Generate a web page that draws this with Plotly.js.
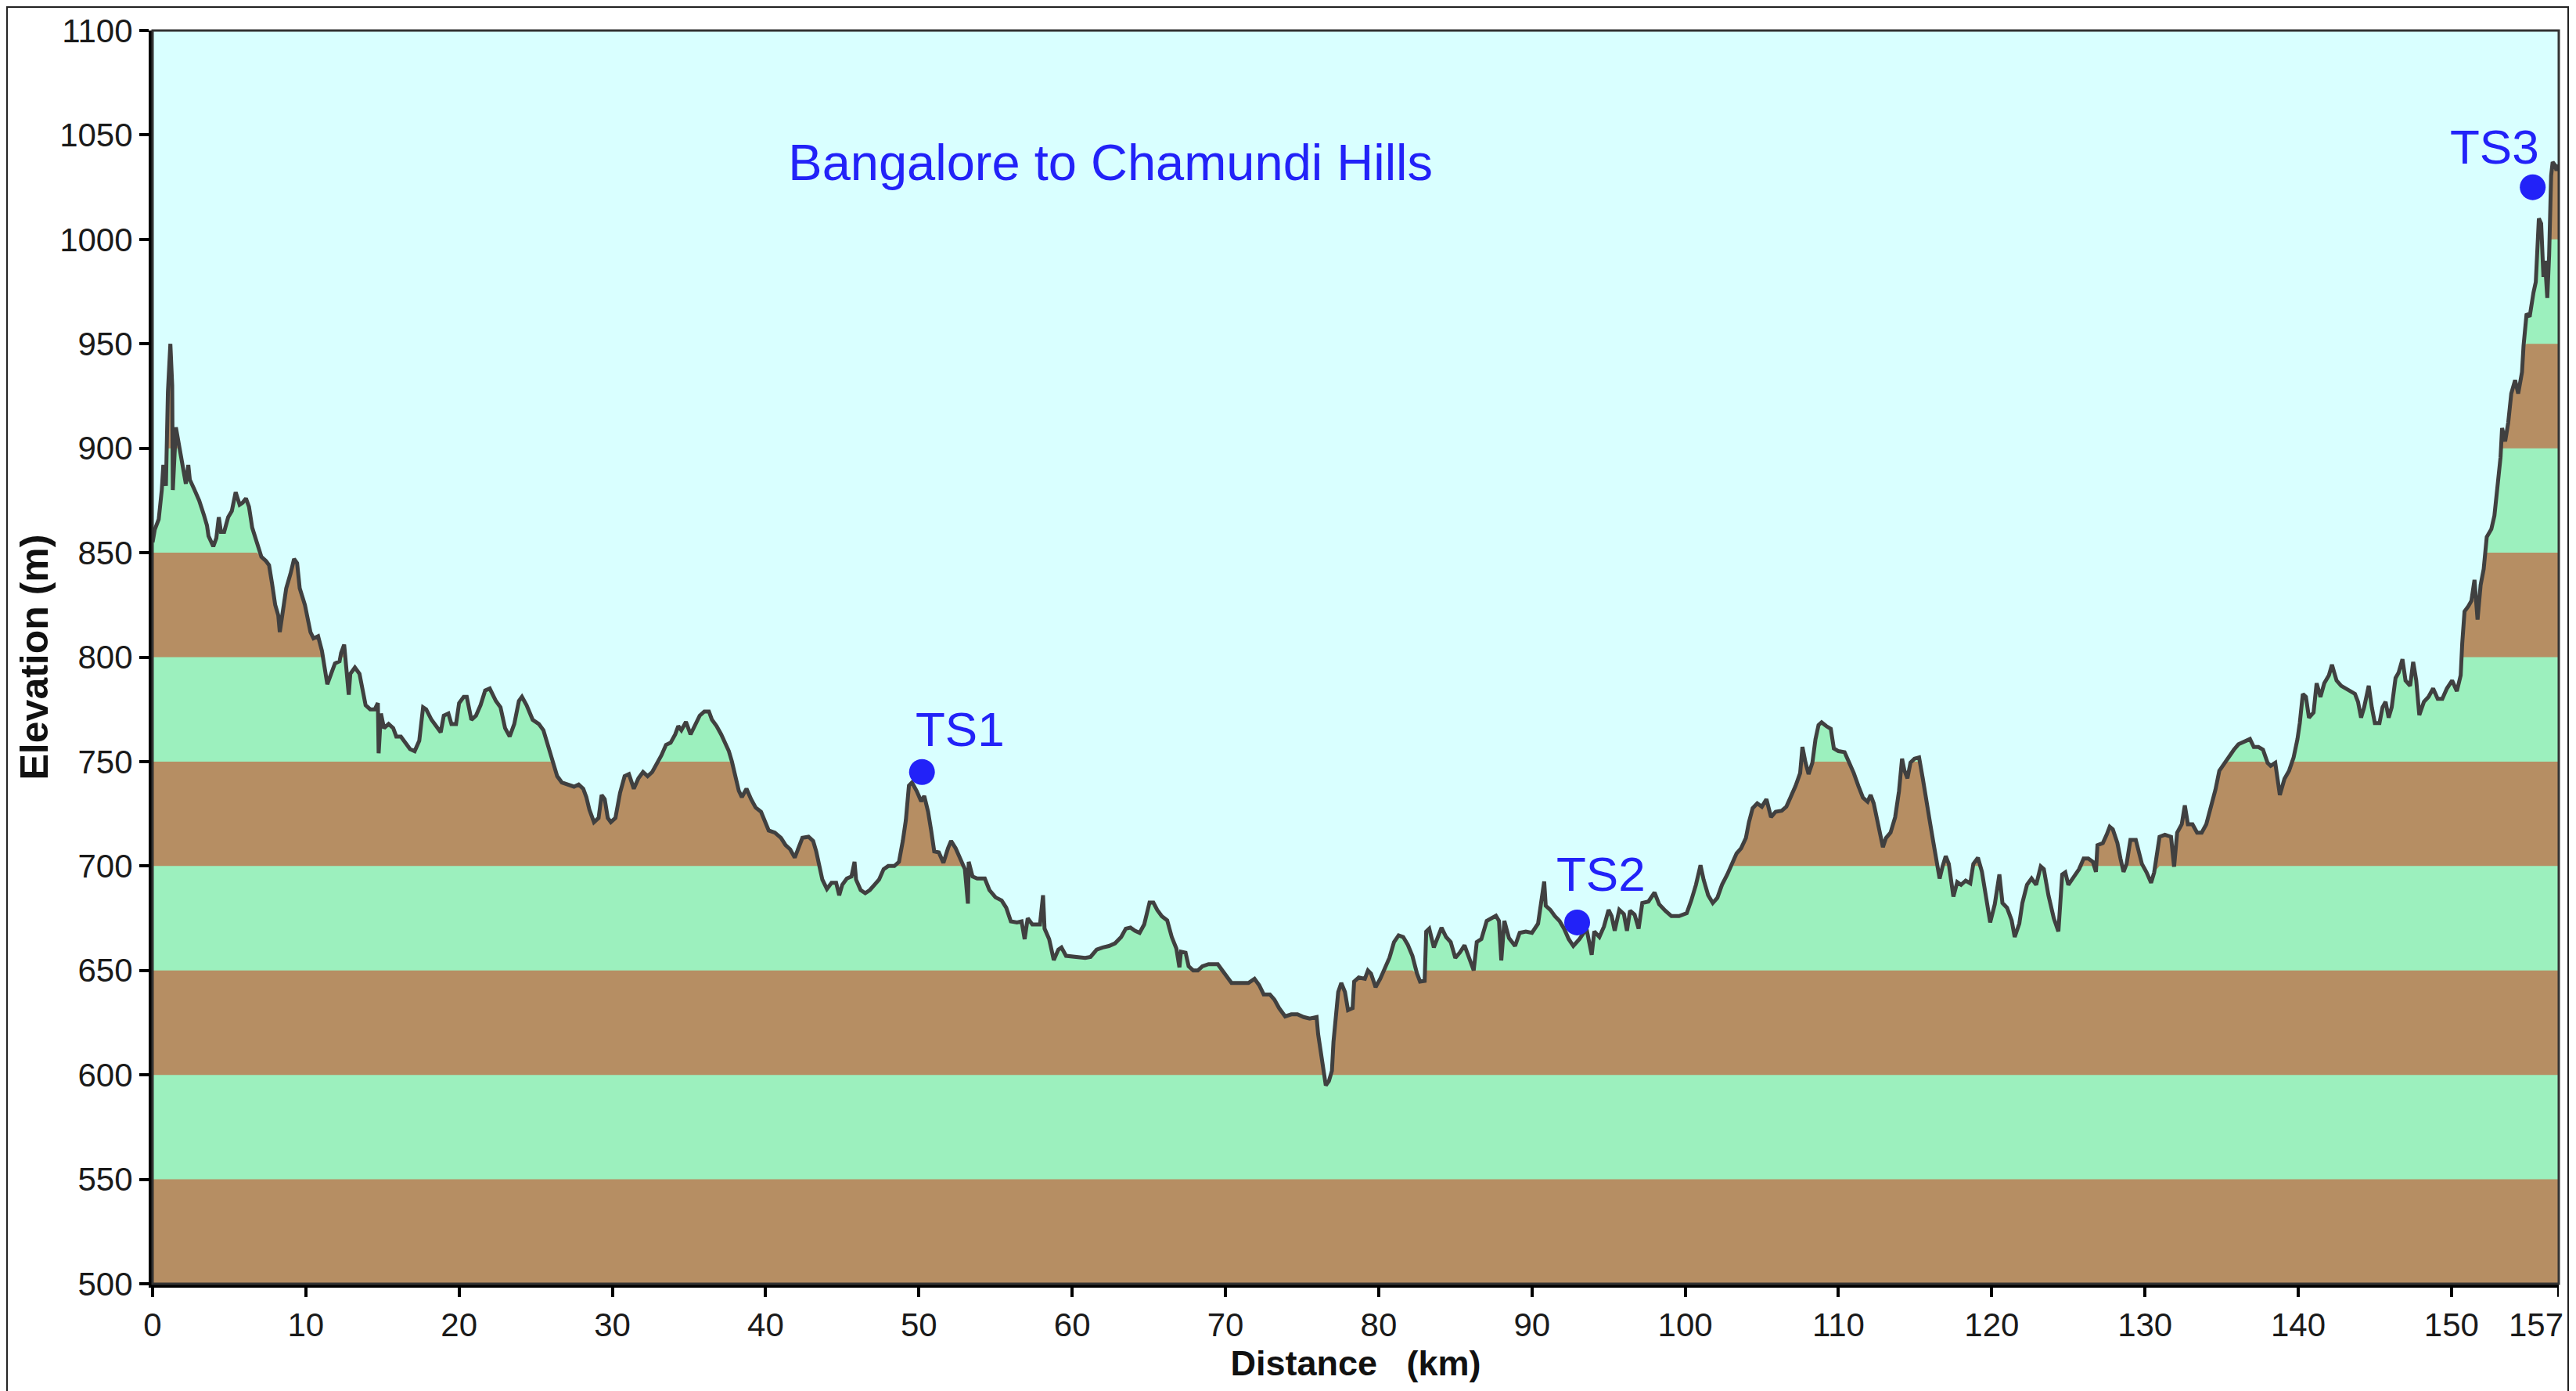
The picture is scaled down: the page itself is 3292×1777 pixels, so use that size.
<!DOCTYPE html>
<html>
<head>
<meta charset="utf-8">
<script src="https://cdn.plot.ly/plotly-3.0.1.min.js"></script>
<style>
  html, body { margin: 0; padding: 0; background: #ffffff; }
  #chart { width: 3292px; height: 1777px; }
</style>
</head>
<body>
<div id="chart"></div>
<script>
// ---- Data ----
const distanceKm = [
  0, 0.14, 0.4, 0.6, 0.7, 0.87, 1.0, 1.16, 1.28, 1.32, 1.52, 1.72, 1.9, 2.0, 2.17, 2.33, 2.43, 2.74, 3.04, 3.35,
  3.55, 3.65, 3.96, 4.16, 4.32, 4.46, 4.67, 4.93, 5.17, 5.42, 5.68, 5.88, 6.09, 6.29, 6.5, 6.8, 7.1, 7.4, 7.6, 7.8,
  8.0, 8.2, 8.3, 8.46, 8.72, 9.0, 9.23, 9.43, 9.6, 9.94, 10.1, 10.3, 10.5, 10.8, 11.05, 11.2, 11.4, 11.7, 11.9, 12.2,
  12.3, 12.5, 12.6, 12.8, 12.9, 13.2, 13.5, 13.7, 13.9, 14.2, 14.5, 14.7, 14.75, 14.9, 15.1, 15.4, 15.7, 15.9, 16.2, 16.5,
  16.8, 17.1, 17.4, 17.65, 17.85, 18.2, 18.5, 18.8, 19.0, 19.3, 19.5, 19.8, 20.0, 20.3, 20.5, 20.8, 21.1, 21.4, 21.7, 22.0,
  22.4, 22.7, 23.0, 23.3, 23.6, 23.9, 24.1, 24.4, 24.8, 25.2, 25.5, 25.8, 26.1, 26.4, 26.7, 27.1, 27.5, 27.8, 28.1, 28.3,
  28.5, 28.8, 29.1, 29.3, 29.5, 29.7, 29.9, 30.2, 30.5, 30.8, 31.08, 31.4, 31.7, 32.0, 32.3, 32.6, 32.9, 33.2, 33.5, 33.8,
  34.1, 34.3, 34.5, 34.8, 35.1, 35.4, 35.7, 36.0, 36.3, 36.5, 36.8, 37.1, 37.4, 37.6, 37.8, 38.0, 38.25, 38.45, 38.75, 39.05,
  39.35, 39.7, 39.96, 40.2, 40.6, 41.0, 41.3, 41.6, 41.9, 42.1, 42.4, 42.8, 43.1, 43.3, 43.5, 43.7, 44.0, 44.3, 44.6, 44.8,
  45.0, 45.3, 45.6, 45.8, 45.9, 46.2, 46.5, 46.8, 47.1, 47.4, 47.7, 48.0, 48.4, 48.7, 48.95, 49.15, 49.35, 49.55, 49.85, 50.15,
  50.35, 50.6, 50.8, 51.0, 51.3, 51.6, 51.9, 52.1, 52.4, 52.7, 53.0, 53.2, 53.25, 53.5, 53.8, 54.3, 54.6, 55.0, 55.4, 55.7,
  56.0, 56.4, 56.7, 56.9, 57.1, 57.4, 57.9, 58.1, 58.2, 58.5, 58.8, 59.1, 59.3, 59.6, 60.05, 60.45, 60.85, 61.2, 61.6, 62.0,
  62.4, 62.8, 63.2, 63.5, 63.8, 64.1, 64.4, 64.7, 65.05, 65.3, 65.55, 65.85, 66.2, 66.5, 66.8, 67.0, 67.1, 67.4, 67.6, 67.9,
  68.2, 68.5, 68.9, 69.5, 69.8, 70.1, 70.4, 70.9, 71.5, 71.9, 72.2, 72.5, 72.9, 73.2, 73.5, 73.9, 74.3, 74.7, 75.1, 75.5,
  75.95, 76.05, 76.25, 76.45, 76.55, 76.75, 76.95, 77.05, 77.2, 77.36, 77.56, 77.8, 78.0, 78.3, 78.4, 78.7, 79.1, 79.3, 79.5, 79.8,
  80.1, 80.4, 80.7, 81.0, 81.3, 81.6, 81.9, 82.2, 82.5, 82.7, 83.0, 83.1, 83.3, 83.6, 83.8, 84.1, 84.4, 84.7, 85.0, 85.3,
  85.6, 85.9, 86.2, 86.4, 86.7, 87.05, 87.35, 87.65, 87.85, 88.0, 88.2, 88.5, 88.9, 89.2, 89.6, 90.0, 90.4, 90.6, 90.8, 90.9,
  91.2, 91.5, 91.8, 92.1, 92.4, 92.7, 93.1, 93.56, 93.9, 94.07, 94.4, 94.7, 95.0, 95.2, 95.4, 95.7, 96.0, 96.2, 96.4, 96.7,
  96.96, 97.2, 97.6, 98.0, 98.3, 98.7, 99.1, 99.6, 100.1, 100.4, 100.7, 101.0, 101.2, 101.5, 101.8, 102.1, 102.4, 102.75, 103.05, 103.35,
  103.65, 103.96, 104.16, 104.4, 104.7, 105.0, 105.3, 105.6, 105.9, 106.3, 106.6, 106.9, 107.2, 107.5, 107.65, 107.85, 108.05, 108.3, 108.5, 108.7,
  108.9, 109.2, 109.5, 109.7, 110.0, 110.4, 110.7, 111.0, 111.3, 111.6, 111.9, 112.1, 112.3, 112.5, 112.7, 112.9, 113.1, 113.4, 113.7, 113.95,
  114.15, 114.3, 114.5, 114.7, 114.96, 115.26, 115.5, 115.7, 115.97, 116.2, 116.4, 116.6, 116.8, 117.0, 117.2, 117.5, 117.75, 118.0, 118.3, 118.6,
  118.8, 119.1, 119.36, 119.6, 119.9, 120.2, 120.5, 120.7, 121.0, 121.3, 121.5, 121.8, 122.0, 122.3, 122.6, 122.9, 123.2, 123.4, 123.7, 124.05,
  124.35, 124.6, 124.8, 125.0, 125.35, 125.7, 126.0, 126.3, 126.6, 126.8, 126.9, 127.25, 127.5, 127.7, 127.9, 128.2, 128.4, 128.6, 128.8, 129.05,
  129.4, 129.6, 129.8, 130.1, 130.4, 130.6, 130.95, 131.3, 131.7, 131.9, 132.1, 132.4, 132.6, 132.8, 133.1, 133.4, 133.7, 134.0, 134.3, 134.6,
  134.85, 135.2, 135.5, 135.8, 136.1, 136.4, 136.85, 137.1, 137.4, 137.7, 138.0, 138.2, 138.5, 138.8, 139.1, 139.4, 139.7, 139.95, 140.1, 140.3,
  140.5, 140.7, 141.0, 141.2, 141.45, 141.7, 142.0, 142.2, 142.5, 142.8, 143.1, 143.4, 143.7, 143.9, 144.1, 144.3, 144.6, 144.8, 145.0, 145.3,
  145.5, 145.7, 145.9, 146.1, 146.35, 146.55, 146.8, 147.0, 147.3, 147.5, 147.7, 147.9, 148.2, 148.5, 148.8, 149.1, 149.4, 149.7, 150.04, 150.35,
  150.6, 150.7, 150.85, 151.1, 151.3, 151.5, 151.7, 151.9, 152.1, 152.3, 152.6, 152.8, 153.0, 153.2, 153.3, 153.5, 153.7, 153.9, 154.15, 154.35,
  154.6, 154.7, 154.9, 155.1, 155.35, 155.5, 155.7, 155.85, 156.0, 156.1, 156.25, 156.37, 156.5, 156.6, 156.75, 156.85, 157.0
];

const elevationM = [
  855, 861, 866, 880, 892, 882, 927, 950, 930, 880, 910, 902, 893, 890, 883, 892, 885, 880, 875, 868,
  863, 858, 853, 857, 867, 860, 860, 867, 870, 879, 873, 874, 876, 872, 862, 855, 848, 846, 844, 835,
  825, 820, 812, 820, 833, 840, 847, 845, 833, 825, 818, 812, 809, 810, 803, 795, 787, 793, 797, 798,
  802, 806, 797, 782, 792, 795, 792, 785, 777, 775, 775, 778, 754, 773, 766, 768, 766, 762, 762, 759,
  756, 755, 760, 776, 775, 770, 767, 764, 772, 773, 768, 768, 778, 781, 781, 770, 772, 777, 784, 785,
  779, 776, 766, 762, 768, 779, 781, 777, 770, 768, 765, 758, 750, 743, 740, 739, 738, 739, 737, 733,
  727, 721, 723, 734, 732, 723, 721, 723, 735, 743, 744, 737, 742, 745, 743, 745, 749, 753, 758, 759,
  763, 767, 765, 769, 763, 768, 772, 774, 774, 770, 767, 763, 758, 755, 750, 743, 736, 733, 737, 732,
  728, 726, 721, 717, 716, 713.5, 710, 708, 704, 708, 713.5, 714, 712, 707, 700, 693.5, 689, 692, 692, 686,
  691, 694, 695, 702, 693.5, 688.5, 687, 688.5, 691, 693.5, 698.5, 700, 700, 702, 712, 722, 738.5, 740, 736, 731,
  733.5, 726, 717, 707, 706.5, 701.5, 708.5, 712, 708.5, 703.5, 698.5, 682, 702, 695, 694, 694, 688.5, 685, 683.5, 680,
  673.5, 673, 673.5, 665, 675, 672, 672, 686, 670, 665, 655, 660, 661, 657, 656.5, 656, 656, 656.5, 660, 661,
  661.7, 663, 666, 670, 670.5, 669, 668, 672, 682.5, 682.5, 679, 676, 674, 666, 660.5, 651.5, 659, 658.5, 652, 650,
  650, 652, 653, 653, 650, 647, 644, 644, 644, 646, 643, 638.5, 638.5, 636, 632, 628, 629, 629, 627.7, 627,
  627.7, 619.5, 609.5, 602, 595, 597, 602, 615.7, 628, 639.7, 644, 639.7, 631, 632, 644.7, 646.6, 646, 650, 648.5, 642,
  646, 651, 656, 663.6, 666.8, 666, 662.3, 657, 648.5, 644.7, 645, 668.6, 670, 661, 665, 670.5, 666, 663.6, 656, 658.6,
  662, 656, 650, 663.6, 665, 673.7, 675, 676.2, 673.7, 654.8, 673.7, 665.5, 661.7, 668, 668.6, 668, 672.4, 683.7, 692.6, 681,
  679, 676, 673.7, 670, 665, 661.7, 665, 670, 657.5, 668.7, 666, 671, 679, 676, 669, 679, 677, 669, 678.6, 676.7,
  670, 682.3, 683, 687.3, 681.7, 678.6, 676, 676, 677.4, 683.6, 691, 700.4, 693.5, 686, 682.3, 684.8, 691, 696, 701, 706,
  708.5, 713.4, 721, 727.7, 730, 728.4, 732, 723.4, 726, 726.5, 728.4, 733.3, 738.3, 744.5, 757, 749.5, 744, 749.5, 760.7, 767.5,
  768.8, 767, 765.7, 756.3, 755, 754.5, 749.5, 744.5, 738.3, 732.7, 730.8, 734, 730, 723.4, 716, 709, 713.4, 716, 723.4, 735.8,
  751.4, 745.8, 742, 749.5, 751.4, 752, 742, 732, 721, 711, 702, 694, 700, 704.7, 701, 685.4, 692.3, 691, 693, 691.7,
  701, 704, 697.3, 687.3, 673, 681.7, 696, 682.3, 680, 674, 666, 672.4, 682.3, 691, 694, 691, 699.8, 698.5, 686, 675,
  668.7, 696, 697, 691, 695, 698.5, 703.6, 703.6, 702, 697.2, 710, 711, 715, 718.8, 717.6, 711, 703.6, 697.2, 701, 712.5,
  712.5, 706, 701, 697, 692, 697, 714, 715, 714, 699.7, 716, 720, 729, 720, 720, 716, 716, 720, 727.8, 736.6,
  745.6, 749.4, 752, 755.7, 758.3, 759.5, 760.8, 757, 757, 755.7, 749.4, 748, 749.4, 734, 741.7, 745.6, 752, 760.8, 768.4, 782.4,
  781, 771, 773.5, 787.5, 781, 787.5, 791.3, 796.4, 788.8, 786.3, 785, 783.7, 782.4, 778.6, 771, 776, 786.3, 776, 768.4, 768.4,
  776, 778.6, 771, 776, 790, 792.6, 799, 788.8, 786.3, 797.7, 788.8, 772.3, 778.6, 781, 785, 780, 780, 785, 788.8, 783.7,
  791.3, 806.6, 821.9, 824.4, 827, 837, 818, 834.5, 842.2, 857.5, 861.3, 867.7, 880.4, 895.7, 909.7, 903.3, 912.2, 926.2, 932.6, 926.2,
  936.4, 949, 964.4, 963, 974.6, 979.6, 1010, 1007.6, 982, 989.8, 972, 992.4, 1030.5, 1037, 1035.6, 1033, 1035.6
];

// Rest stops
const stopNames = ['TS1', 'TS2', 'TS3'];
const stopDistKm = [50.2, 92.95, 155.3];
const stopElevM = [745, 673, 1025];

// Elevation bands (lower edges) and axis ticks
const bandLowerEdges = [500, 550, 600, 650, 700, 750, 800, 850, 900, 950, 1000, 1050];
const bandStep = 50;
const xTickVals = [0, 10, 20, 30, 40, 50, 60, 70, 80, 90, 100, 110, 120, 130, 140, 150];
const xTickLabels = ['0', '10', '20', '30', '40', '50', '60', '70', '80', '90', '100', '110', '120', '130', '140', '150'];
const routeEndKm = 157;
const routeEndLabel = '157';
const yTickVals = [500, 550, 600, 650, 700, 750, 800, 850, 900, 950, 1000, 1050, 1100];

const chartTitle = 'Bangalore to Chamundi Hills';
const xTitle = 'Distance\u00A0\u00A0\u00A0(km)';
const yTitle = 'Elevation (m)';

// ---- Styles ----
const SKY = '#D9FFFF';
const BROWN = '#B68E63';
const GREEN = '#9CF0BE';
const BLUE = '#2222F8';
const LINE = '#404040';
const FONT = 'Liberation Sans, Arial, Helvetica, sans-serif';
const TICK_FONT = { family: FONT, size: 42, color: '#1a1a1a' };

const traces = [];
// Banded fill under the profile: highest band drawn first, lower ones on top
for (let i = bandLowerEdges.length - 1; i >= 0; i--) {
  const hi = bandLowerEdges[i] + bandStep;
  traces.push({
    type: 'scatter', mode: 'lines',
    x: distanceKm,
    y: elevationM.map(v => Math.min(v, hi)),
    fill: 'tozeroy',
    fillcolor: (i % 2 === 0) ? BROWN : GREEN,
    line: { width: 0 },
    hoverinfo: 'skip', showlegend: false
  });
}
// Profile outline
traces.push({
  type: 'scatter', mode: 'lines',
  x: distanceKm, y: elevationM,
  line: { color: LINE, width: 5 },
  hoverinfo: 'skip', showlegend: false
});
// Rest-stop markers
traces.push({
  type: 'scatter', mode: 'markers',
  x: stopDistKm, y: stopElevM, text: stopNames,
  marker: { size: 33, color: BLUE },
  hoverinfo: 'text', showlegend: false
});

const labelShifts = [[49, 55], [30, 62], [-49, 52]];
const annotations = stopNames.map((name, i) => ({
  x: stopDistKm[i], y: stopElevM[i], xref: 'x', yref: 'y',
  text: name, showarrow: false,
  xanchor: 'center', yanchor: 'middle',
  xshift: labelShifts[i][0], yshift: labelShifts[i][1],
  font: { family: FONT, size: 62, color: BLUE }
}));
// route-end tick label, drawn left of its tick as in the original
annotations.push({
  x: routeEndKm, xref: 'x', y: 0, yref: 'paper',
  text: routeEndLabel, showarrow: false,
  xanchor: 'right', yanchor: 'middle',
  xshift: 8, yshift: -52,
  font: TICK_FONT
});

const layout = {
  width: 3292, height: 1777,
  margin: { l: 195, r: 22, t: 39, b: 137, pad: 0 },
  paper_bgcolor: '#ffffff',
  plot_bgcolor: SKY,
  font: { family: FONT, color: '#1a1a1a' },
  title: {
    text: chartTitle,
    font: { family: FONT, size: 65, color: BLUE },
    xref: 'container', yref: 'container',
    x: 0.4311, xanchor: 'center',
    y: 0.8835, yanchor: 'middle'
  },
  xaxis: {
    range: [0, 157],
    tickmode: 'array', tickvals: xTickVals, ticktext: xTickLabels,
    ticks: 'outside', ticklen: 12, tickwidth: 4, tickcolor: '#000',
    tickfont: TICK_FONT,
    showline: true, linecolor: '#000', linewidth: 5,
    showgrid: false, zeroline: false,
    title: { text: '<b>' + xTitle + '</b>', font: { family: FONT, size: 45, color: '#111' }, standoff: 8 },
    automargin: false, fixedrange: true
  },
  yaxis: {
    range: [500, 1100],
    tickmode: 'array', tickvals: yTickVals,
    ticks: 'outside', ticklen: 12, tickwidth: 4, tickcolor: '#000',
    tickfont: TICK_FONT,
    showline: true, linecolor: '#000', linewidth: 5,
    showgrid: false, zeroline: false,
    title: { text: '<b>' + yTitle + '</b>', font: { family: FONT, size: 50, color: '#111' }, standoff: 0 },
    automargin: false, fixedrange: true
  },
  shapes: [
    // tick mark at the route end (157 km)
    { type: 'line', xref: 'x', yref: 'paper', x0: routeEndKm, x1: routeEndKm, y0: 0, y1: -0.0105,
      line: { color: '#000', width: 4 } },
    // thin frame around plot area (top/right)
    { type: 'rect', xref: 'paper', yref: 'paper', x0: 0, x1: 1, y0: 0, y1: 1,
      line: { color: '#333', width: 3 }, fillcolor: 'rgba(0,0,0,0)', layer: 'above' },
    // outer picture frame
    { type: 'rect', xref: 'paper', yref: 'paper', x0: -0.0605, x1: 1.0039, y0: -0.1, y1: 1.0187,
      line: { color: '#222', width: 2 }, fillcolor: 'rgba(0,0,0,0)', layer: 'above' }
  ],
  annotations: annotations,
  showlegend: false
};

Plotly.newPlot('chart', traces, layout, { staticPlot: true, displayModeBar: false });
</script>
</body>
</html>
